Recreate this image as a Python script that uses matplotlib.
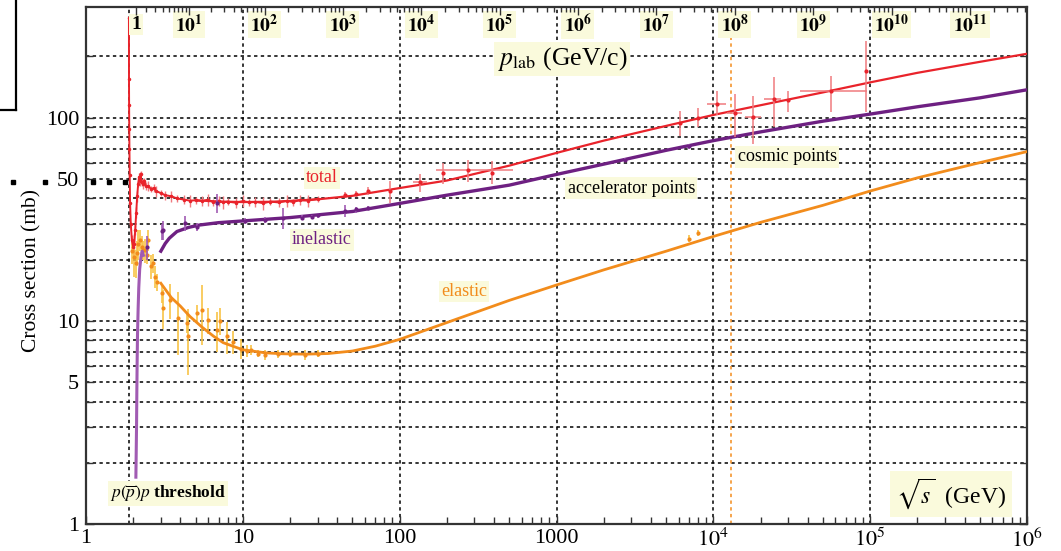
import numpy as np
import matplotlib
matplotlib.use("Agg")
import matplotlib.pyplot as plt
from matplotlib.lines import Line2D
from matplotlib.ticker import FixedLocator, FixedFormatter, NullFormatter

plt.rcParams['font.family'] = ['Liberation Serif', 'DejaVu Serif']
plt.rcParams['mathtext.fontset'] = 'stix'

M_P = 0.938  # proton mass, GeV

# smooth fits, sqrt(s) in GeV, cross sections in mb
tot_fit_x = [5, 7, 10, 15, 20, 30, 50, 100, 200, 500, 1000, 2000, 5000,
             1e4, 2e4, 5e4, 1e5, 2e5, 5e5, 1e6]
tot_fit_y = [39.2, 38.6, 38.4, 38.5, 38.9, 39.6, 41.2, 45, 49, 58, 67, 77,
             91, 103, 115, 133, 149, 166, 188, 206]

inel_fit_x = [3.0, 3.2, 3.4, 3.8, 4.5, 5.3, 7, 10, 20, 50, 100, 200, 500,
              1000, 2000, 5000, 1e4, 2e4, 5e4, 1e5, 2e5, 5e5, 1e6]
inel_fit_y = [22, 24, 25.5, 27.5, 28.8, 29.6, 30.4, 31.0, 32.2, 34.5, 37.8,
              41.5, 46.5, 52.5, 59, 69, 77, 85, 96, 104, 113, 125, 137]

el_fit_x = [3.0, 3.5, 4, 4.6, 5.5, 6.5, 7.5, 10, 14, 18, 25, 35, 50, 70,
            100, 200, 500, 1000, 2000, 5000, 1e4, 2e4, 5e4, 1e5, 2e5, 5e5, 1e6]
el_fit_y = [15.3, 13.0, 11.8, 10.5, 9.3, 8.4, 7.8, 7.2, 6.95, 6.88, 6.85,
            6.9, 7.1, 7.5, 8.1, 9.8, 12.6, 15.0, 17.8, 22.0, 26, 30.5, 37,
            43.5, 50.5, 60, 68]

# low-energy total cross section measurements
tot_lo_x = [1.878, 1.880, 1.883, 1.887, 1.892, 1.90, 1.91, 1.93, 1.96, 2.0,
            2.03, 2.06, 2.09, 2.12, 2.15, 2.18, 2.2, 2.23, 2.26, 2.3, 2.35,
            2.4, 2.5, 2.6, 2.7, 2.8, 3.0, 3.2, 3.5, 3.8, 4.2, 4.6, 5.0, 5.5,
            6.0, 6.5, 7.0, 7.5, 8.0, 9.0, 10, 11, 12, 13.5, 15, 17, 19, 21,
            23, 26, 30]
tot_lo_y = [310, 155, 115, 88, 70, 52, 38, 30, 25, 23, 24, 28, 34, 41, 47,
            51, 49, 53, 48, 47, 49, 46, 46, 44.5, 45, 43.5, 42.5, 41.5, 41,
            40, 39.5, 39, 39.2, 38.8, 39.5, 38.3, 39, 38.2, 38.6, 38.1, 38.8,
            38.2, 38.5, 37.9, 38.6, 38.2, 38.9, 38.4, 39.3, 39, 39.8]

# accelerator total cross section points at higher energy
tot_acc_x = [45, 52.7, 62.6, 87, 135, 190, 274, 386, 6140, 8000]
tot_acc_y = [41.6, 42.2, 43.5, 43.4, 48, 53.4, 55, 53.4, 94, 100]
tot_acc_ylo = [40.5, 41, 41.5, 38, 43, 47, 48, 47, 81, 90]
tot_acc_yhi = [42.8, 43.5, 45.5, 48.5, 53, 60, 62, 61, 108, 111]
tot_acc_xlo = [45, 52.7, 62.6, 87, 122, 190, 170, 386, 6140, 8000]
tot_acc_xhi = [45, 52.7, 62.6, 87, 150, 190, 530, 386, 6140, 8000]

# cosmic ray points
cos_x = [10500, 13800, 18000, 24200, 29800, 56400, 93800]
cos_y = [117, 105.5, 100.7, 124, 122, 135, 169]
cos_ylo = [103, 80, 74, 90, 106, 106, 106]
cos_yhi = [135, 130, 128, 159, 135, 161, 238]
cos_xlo = [9100, 12200, 16000, 21000, 29800, 35700, 93800]
cos_xhi = [12000, 15300, 20000, 27000, 29800, 95000, 93800]

# inelastic measurements
inel_th_x = [2.08, 2.10, 2.11, 2.12, 2.13, 2.15, 2.17, 2.2, 2.24, 2.28, 2.32]
inel_th_y = [1.7, 3.0, 4.6, 6.5, 8.5, 11.5, 14.5, 18, 20.5, 22, 21]
inel_pt_x = [2.45, 3.04, 3.11, 4.28, 5.07, 6.8, 10.3, 13.9, 18.1, 23.7,
             27.5, 30.3, 44.9, 52.7, 62.6, 2740, 7000]
inel_pt_y = [23, 27.6, 28, 30.3, 29, 38, 31, 31.4, 32, 32.2, 32.5, 33,
             34.8, 35.3, 35.9, 62, 72.3]
inel_pt_err = [3, 2.5, 3, 2.5, 1.2, 4, 1.2, 1, 3.8, 0.8, 0.8, 1, 2.5, 1.2,
               0.8, 1, 2]

# elastic measurements
el_pt_x = [1.96, 2.02, 2.08, 2.11, 2.16, 2.21, 2.26, 2.32, 2.38, 2.44, 2.5,
           2.6, 2.69, 2.75, 2.85, 3.04, 3.11, 3.43, 3.88, 4.39, 4.5, 5.07,
           5.46, 6.0, 6.8, 7.1, 7.9, 8.6, 9.8, 10.6, 11.3, 12.5, 13.8, 16.8,
           20, 25, 30, 7000, 8000]
el_pt_y = [22, 20.5, 19.2, 21.6, 24, 25, 23, 22.3, 22.3, 21, 25, 18.5,
           19.2, 16.5, 15.5, 13.7, 11.6, 12.7, 10.3, 9.75, 8.4, 10.9, 11.3,
           10.1, 9.0, 10.0, 8.4, 7.9, 7.3, 7.1, 7.2, 6.9, 6.8, 6.85, 6.9,
           6.8, 6.9, 25.4, 27]
el_pt_err = [3, 4, 3, 3, 4, 3, 3, 2.5, 3, 2, 3, 2.5, 2, 2, 1.5, 1.5, 2.5,
             2.5, 3.5, 1, 3, 1, 3.7, 1.5, 2, 1.5, 1.5, 1, 0.8, 0.5, 0.4,
             0.3, 0.4, 0.3, 0.3, 0.4, 0.3, 1, 1]

# p_lab (GeV/c) ticks for the upper scale
plab_exp = list(range(0, 12))
plab_labels = ['1'] + [r'$\mathbf{10^{%d}}$' % k for k in plab_exp[1:]]

x_ticks = [1, 10, 100, 1000, 1e4, 1e5, 1e6]
x_labels = ['1', '10', '100', '1000', r'$10^4$', r'$10^5$', r'$10^6$']
y_ticks = [1, 5, 10, 50, 100]
y_labels = ['1', '5', '10', '50', '100']
y_grid = [2, 3, 4, 6, 7, 8, 9, 20, 30, 40, 60, 70, 80, 90, 200]

RED = '#e9232b'
RED_E = '#f07a7f'
PURPLE = '#6e2082'
PURPLE_E = '#a15bb3'
ORANGE = '#f28c1c'
ORANGE_E = '#f8c447'
YELLOW = '#fafadc'


def p_to_rs(p):
    p = np.asarray(p, dtype=float)
    return np.sqrt(2 * M_P ** 2 + 2 * M_P * np.sqrt(p ** 2 + M_P ** 2))


W, H = 1061, 551
fig = plt.figure(figsize=(W / 100, H / 100), dpi=100)
ax = fig.add_axes([86 / W, 27 / H, 941 / W, 517 / H])
ax.set_xscale('log')
ax.set_yscale('log')
ax.set_xlim(1, 1e6)
ax.set_ylim(1, 350)

grid_kw = dict(color='black', lw=1.1, ls=(0, (2.2, 2.2)), zorder=1)
for v in [10, 100, 1000, 1e4, 1e5, 2 * M_P]:
    ax.axvline(v, **grid_kw)
for v in y_grid + [5, 10, 50, 100]:
    ax.axhline(v, **grid_kw)
ax.axvline(13000, color=ORANGE, lw=1.1, ls=(0, (2.2, 2.2)), zorder=1)

# fitted curves
ax.plot(tot_fit_x, tot_fit_y, color=RED, lw=1.6, zorder=4)
ax.plot(inel_fit_x, inel_fit_y, color=PURPLE, lw=2.4, zorder=4)
ax.plot(el_fit_x, el_fit_y, color=ORANGE, lw=2.0, zorder=4)

# measurements
ax.plot(tot_lo_x, tot_lo_y, color=RED, lw=1.4, marker='.', ms=3, zorder=5)
ax.errorbar(tot_lo_x[8:], tot_lo_y[8:],
            yerr=[1.5 + 0.6 * (i % 3) for i in range(len(tot_lo_x) - 8)],
            fmt='none', ecolor=RED_E, elinewidth=1, zorder=3)
ax.errorbar(tot_acc_x, tot_acc_y,
            yerr=[np.subtract(tot_acc_y, tot_acc_ylo), np.subtract(tot_acc_yhi, tot_acc_y)],
            xerr=[np.subtract(tot_acc_x, tot_acc_xlo), np.subtract(tot_acc_xhi, tot_acc_x)],
            fmt='.', ms=4, color=RED, ecolor=RED_E, elinewidth=1.1, zorder=5)
ax.errorbar(cos_x, cos_y,
            yerr=[np.subtract(cos_y, cos_ylo), np.subtract(cos_yhi, cos_y)],
            xerr=[np.subtract(cos_x, cos_xlo), np.subtract(cos_xhi, cos_x)],
            fmt='.', ms=4, color=RED, ecolor=RED_E, elinewidth=1.1, zorder=5)

ax.plot(inel_th_x, inel_th_y, color=PURPLE_E, lw=2.2, zorder=5)
ax.errorbar(inel_pt_x, inel_pt_y, yerr=inel_pt_err, fmt='.', ms=4,
            color=PURPLE, ecolor=PURPLE_E, elinewidth=1.2, zorder=5)

ax.errorbar(el_pt_x, el_pt_y, yerr=el_pt_err, fmt='.', ms=4,
            color=ORANGE, ecolor=ORANGE_E, elinewidth=1.2, zorder=3)

# axes, ticks
for s in ax.spines.values():
    s.set_color('#333333')
    s.set_linewidth(1.6)
ax.xaxis.set_major_locator(FixedLocator(x_ticks))
ax.xaxis.set_major_formatter(FixedFormatter(x_labels))
ax.xaxis.set_minor_locator(FixedLocator(
    [m * 10 ** k for k in range(6) for m in range(2, 10)]))
ax.xaxis.set_minor_formatter(NullFormatter())
ax.yaxis.set_major_locator(FixedLocator(y_ticks))
ax.yaxis.set_major_formatter(FixedFormatter(y_labels))
ax.yaxis.set_minor_locator(FixedLocator(y_grid))
ax.yaxis.set_minor_formatter(NullFormatter())
ax.tick_params(which='both', direction='in', color='#333333', width=1,
               labelsize=16, right=True)
ax.tick_params(which='major', length=6, pad=5)
ax.tick_params(axis='x', which='major', pad=3.5)
ax.tick_params(which='minor', length=5)
ax.set_ylabel('Cross section (mb)', fontsize=15.5)
ax.yaxis.set_label_coords(-0.047, 0.49)

# upper scale in p_lab
top = ax.twiny()
top.set_xscale('log')
top.set_xlim(ax.get_xlim())
top.xaxis.set_major_locator(FixedLocator(p_to_rs([10.0 ** k for k in plab_exp])))
top.xaxis.set_minor_locator(FixedLocator(
    p_to_rs([m * 10.0 ** k for k in plab_exp for m in range(2, 10)])))
top.xaxis.set_major_formatter(NullFormatter())
top.xaxis.set_minor_formatter(NullFormatter())
top.tick_params(which='both', direction='in', color='#333333', width=1)
top.tick_params(which='major', length=6)
top.tick_params(which='minor', length=3.5)
for s in top.spines.values():
    s.set_visible(False)

box = dict(boxstyle='square,pad=0.12', fc=YELLOW, ec='none')
for k, lab in zip(plab_exp, plab_labels):
    ax.text(p_to_rs(10.0 ** k), 0.966, lab, transform=ax.get_xaxis_transform(),
            ha='center', va='center', fontsize=14, fontweight='bold',
            bbox=box, zorder=6)

ax.text(1090, 0.899, r'$p_{\rm lab}$ (GeV/c)', transform=ax.get_xaxis_transform(),
        ha='center', va='center', fontsize=18.5, bbox=box, zorder=6)
ax.text(3.3e5, 0.058, r'$\sqrt{s}$  (GeV)', transform=ax.get_xaxis_transform(),
        ha='center', va='center', fontsize=17,
        bbox=dict(boxstyle='square,pad=0.25', fc=YELLOW, ec='none'), zorder=6)
ax.text(3.35, 0.059, r'$p(\overline{p})p$ threshold', transform=ax.get_xaxis_transform(),
        ha='center', va='center', fontsize=12.5, fontweight='bold',
        bbox=box, zorder=6)

lab_kw = dict(ha='center', va='center', fontsize=13, bbox=box, zorder=6)
ax.text(32, 50.5, 'total', color=RED, **lab_kw)
ax.text(32, 25, 'inelastic', color=PURPLE, **lab_kw)
ax.text(257, 13.9, 'elastic', color=ORANGE, **lab_kw)
ax.text(3000, 45, 'accelerator points', color='black', **lab_kw)
ax.text(29500, 64, 'cosmic points', color='black', **lab_kw)

# stray marks at the left edge
fig.add_artist(Line2D([16 / W, 16 / W], [1, 1 - 110 / H], color='black', lw=1.6))
fig.add_artist(Line2D([0, 16 / W], [1 - 110 / H, 1 - 110 / H], color='black', lw=1.6))
for px in [13, 45, 93, 109, 125]:
    fig.add_artist(Line2D([px / W], [1 - 182 / H], marker='s', ms=3,
                          color='black', lw=0))

fig.savefig('out.png', dpi=100)
